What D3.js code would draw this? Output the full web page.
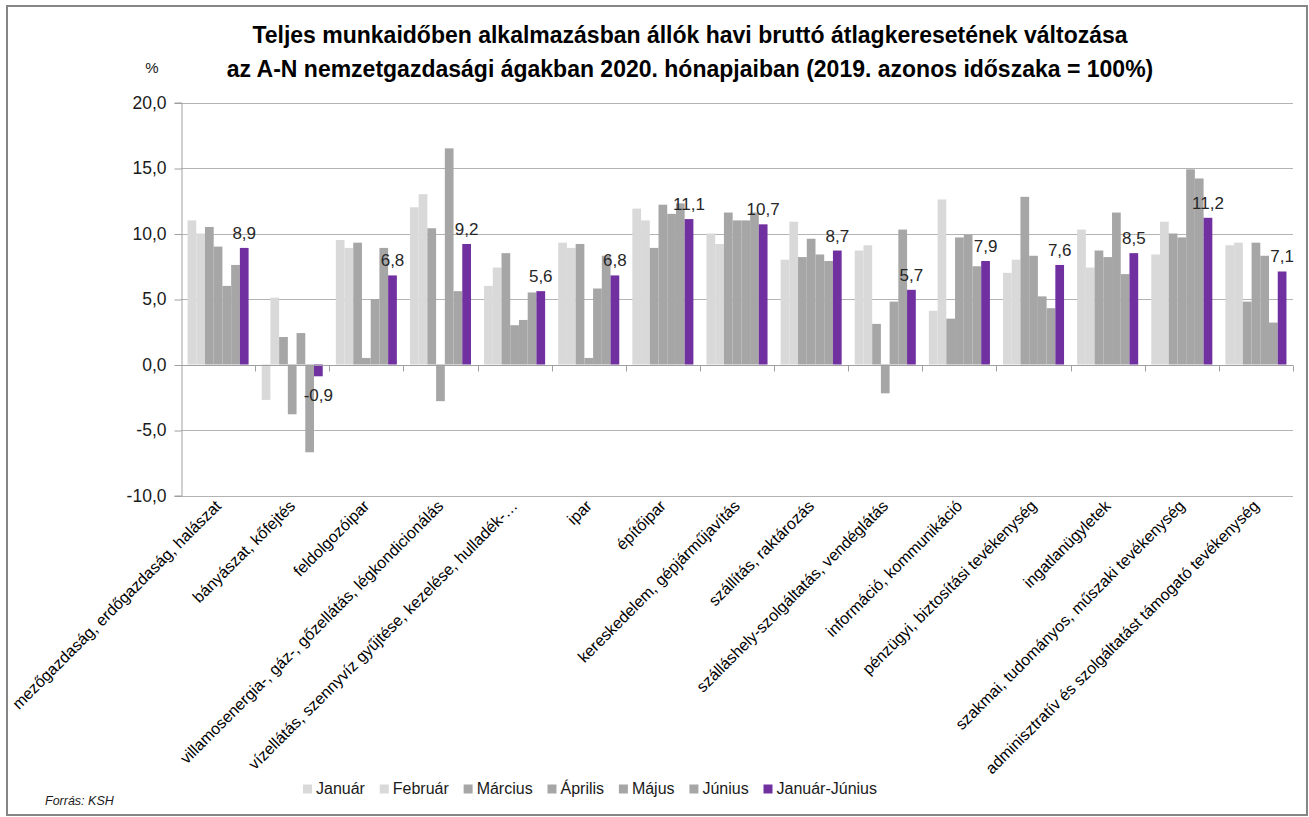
<!DOCTYPE html>
<html>
<head>
<meta charset="utf-8">
<title>Átlagkereset változása</title>
<style>
  body { margin: 0; background: #fff; }
  svg { display: block; font-family: "Liberation Sans", Arial, sans-serif; }
  .grid line { stroke: #b3b3b3; stroke-width: 1px; }
  .frame { fill: none; stroke: #868686; stroke-width: 2px; }
</style>
</head>
<body>
<svg width="1309" height="817"></svg>
<script src="https://cdn.jsdelivr.net/npm/d3@7"></script>
<script>

var categories = [
  "mezőgazdaság, erdőgazdaság, halászat",
  "bányászat, kőfejtés",
  "feldolgozóipar",
  "villamosenergia-, gáz-, gőzellátás, légkondicionálás",
  "vízellátás, szennyvíz gyűjtése, kezelése, hulladék-…",
  "ipar",
  "építőipar",
  "kereskedelem, gépjárműjavítás",
  "szállítás, raktározás",
  "szálláshely-szolgáltatás, vendéglátás",
  "információ, kommunikáció",
  "pénzügyi, biztosítási tevékenység",
  "ingatlanügyletek",
  "szakmai, tudományos, műszaki tevékenység",
  "adminisztratív és szolgáltatást támogató tevékenység"
];

var seriesNames = ["Január", "Február", "Március", "Április", "Május", "Június", "Január-Június"];
var seriesColors = ["#d9d9d9", "#d9d9d9", "#a6a6a6", "#a6a6a6", "#a6a6a6", "#a6a6a6", "#7030a0"];

var januar  = [11.0,  -2.7,  9.5, 12.0,  6.0, 9.3, 11.9, 10.0,  8.0,  8.7,  4.1,  7.0, 10.3,  8.4, 9.1];
var februar = [10.0,   5.1,  8.9, 13.0,  7.4, 8.9, 11.0,  9.2, 10.9,  9.1, 12.6,  8.0,  7.4, 10.9, 9.3];
var marcius = [10.5,   2.1,  9.3, 10.4,  8.5, 9.2,  8.9, 11.6,  8.2,  3.1,  3.5, 12.8,  8.7, 10.0, 4.8];
var aprilis = [ 9.0,  -3.8,  0.5, -2.8,  3.0, 0.5, 12.2, 11.0,  9.6, -2.2,  9.7,  8.3,  8.2,  9.7, 9.3];
var majus   = [ 6.0,   2.4,  5.0, 16.5,  3.4, 5.8, 11.5, 11.0,  8.4,  4.8,  9.9,  5.2, 11.6, 14.9, 8.3];
var junius  = [ 7.6,  -6.7,  8.9,  5.6,  5.5, 8.3, 12.3, 11.6,  7.9, 10.3,  7.5,  4.3,  6.9, 14.2, 3.2];
var janjun  = [ 8.9,  -0.9,  6.8,  9.2,  5.6, 6.8, 11.1, 10.7,  8.7,  5.7,  7.9,  7.6,  8.5, 11.2, 7.1];

var yTicks = [-10, -5, 0, 5, 10, 15, 20];

var allSeries = [januar, februar, marcius, aprilis, majus, junius, janjun];

var svg = d3.select("svg"),
    W = +svg.attr("width"),
    H = +svg.attr("height");

var plot = {left: 181, right: 1293, top: 102.5, bottom: 495.5};

function fmt(v) { return v.toFixed(1).replace(".", ","); }

// frame round the whole picture
svg.append("rect").attr("class", "frame")
    .attr("x", 7).attr("y", 6).attr("width", W - 9).attr("height", H - 8);

var gap = 1.5 / 8.5;
var x0 = d3.scaleBand().domain(categories).range([plot.left, plot.right])
    .paddingInner(gap).paddingOuter(gap / 2);
var x1 = d3.scaleBand().domain(seriesNames).range([0, x0.bandwidth()]);
var y = d3.scaleLinear().domain([-10, 20]).range([plot.bottom, plot.top]);

// gridlines
svg.append("g").attr("class", "grid")
  .selectAll("line").data(yTicks).enter().append("line")
    .attr("x1", plot.left).attr("x2", plot.right)
    .attr("y1", function(d) { return Math.round(y(d)) + 0.5; })
    .attr("y2", function(d) { return Math.round(y(d)) + 0.5; });

// y axis
var yAxis = svg.append("g")
    .attr("transform", "translate(" + (plot.left + 0.5) + ",0)")
    .call(d3.axisLeft(y).tickValues(yTicks).tickSize(7).tickPadding(8).tickFormat(fmt));
yAxis.select(".domain").attr("stroke", "#a0a0a0");
yAxis.selectAll(".tick line").attr("stroke", "#a0a0a0")
    .attr("transform", "translate(0,0.5)");
yAxis.selectAll(".tick text").attr("font-size", 17.5).attr("fill", "#1a1a1a")
    .attr("font-family", "Liberation Sans, Arial, sans-serif");

svg.append("text").attr("x", 152).attr("y", 73).attr("text-anchor", "middle")
    .attr("font-size", 15).attr("fill", "#1a1a1a").text("%");

// bars
var table = [];
categories.forEach(function(c, i) {
  seriesNames.forEach(function(s, j) {
    table.push({cat: c, series: s, idx: j, value: allSeries[j][i]});
  });
});

svg.append("g").selectAll("rect").data(table).enter().append("rect")
    .attr("x", function(d) { return x0(d.cat) + x1(d.series); })
    .attr("width", x1.bandwidth())
    .attr("y", function(d) { return y(Math.max(0, d.value)); })
    .attr("height", function(d) { return Math.abs(y(d.value) - y(0)); })
    .attr("fill", function(d) { return seriesColors[d.idx]; });

// category axis at zero
var y0 = Math.round(y(0)) + 0.5;
svg.append("line").attr("x1", plot.left).attr("x2", plot.right)
    .attr("y1", y0).attr("y2", y0).attr("stroke", "#a0a0a0");
svg.append("g").selectAll("line").data(d3.range(1, categories.length + 1)).enter().append("line")
    .attr("x1", function(i) { return Math.round(plot.left + i * x0.step()) + 0.5; })
    .attr("x2", function(i) { return Math.round(plot.left + i * x0.step()) + 0.5; })
    .attr("y1", y0).attr("y2", y0 + 6).attr("stroke", "#a0a0a0");

// data labels for Január-Június
svg.append("g").selectAll("text").data(table.filter(function(d) { return d.idx === 6; }))
  .enter().append("text")
    .attr("x", function(d) { return x0(d.cat) + x1(d.series) + x1.bandwidth() / 2; })
    .attr("y", function(d) { return d.value >= 0 ? y(d.value) - 9 : y(d.value) + 25; })
    .attr("text-anchor", "middle")
    .attr("font-size", 17).attr("fill", "#262626")
    .text(function(d) { return fmt(d.value); });

// category labels
svg.append("g").selectAll("text").data(categories).enter().append("text")
    .attr("transform", function(d) {
      return "translate(" + (x0(d) + x0.bandwidth() / 2 + 4) + ",507) rotate(-45)";
    })
    .attr("text-anchor", "end")
    .attr("font-size", 16).attr("fill", "#000")
    .text(function(d) { return d; });

// title
var title = svg.append("text").attr("text-anchor", "middle")
    .attr("font-size", 23).attr("font-weight", "bold").attr("fill", "#000");
title.append("tspan").attr("x", 690).attr("y", 43)
    .text("Teljes munkaidőben alkalmazásban állók havi bruttó átlagkeresetének változása");
title.append("tspan").attr("x", 690).attr("y", 77)
    .text("az A-N nemzetgazdasági ágakban 2020. hónapjaiban (2019. azonos időszaka = 100%)");

// legend, spread between the reference ends
var legend = svg.append("g");
var items = seriesNames.map(function(s, j) {
  var item = legend.append("g");
  item.append("rect").attr("width", 9).attr("height", 9).attr("y", -9.5).attr("fill", seriesColors[j]);
  var t = item.append("text").attr("x", 13).attr("y", 0)
      .attr("font-size", 16).attr("fill", "#1a1a1a").text(s);
  return {g: item, w: 13 + t.node().getComputedTextLength()};
});
var legendStart = 303, legendEnd = 877;
var legendGap = (legendEnd - legendStart - d3.sum(items, function(d) { return d.w; })) / (items.length - 1);
var lx = legendStart;
items.forEach(function(it) {
  it.g.attr("transform", "translate(" + lx + ",794)");
  lx += it.w + legendGap;
});

svg.append("text").attr("x", 45).attr("y", 805)
    .attr("font-size", 12.5).attr("font-style", "italic").attr("fill", "#1a1a1a")
    .text("Forrás: KSH");

</script>
</body>
</html>
